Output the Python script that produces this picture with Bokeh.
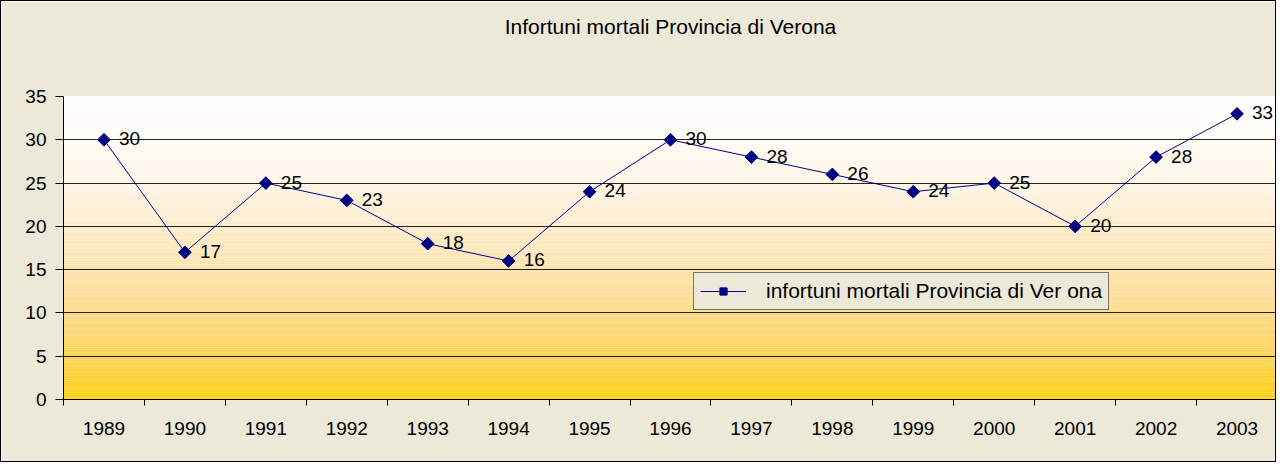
import numpy as np
from bokeh.plotting import figure
from bokeh.models import ColumnDataSource, FixedTicker, LabelSet, Legend, LegendItem, Range1d, Title
from bokeh.core.properties import value
from bokeh.embed import file_html
from bokeh.resources import INLINE

years = ["1989", "1990", "1991", "1992", "1993", "1994", "1995", "1996",
         "1997", "1998", "1999", "2000", "2001", "2002", "2003"]
deaths = [30, 17, 25, 23, 18, 16, 24, 30, 28, 26, 24, 25, 20, 28, 33]
y_ticks = [0, 5, 10, 15, 20, 25, 30, 35]
title_text = "Infortuni mortali Provincia di Verona"
legend_text = "infortuni mortali Provincia di Ver ona"

FONT = "Liberation Sans"
n = len(years)
xs = [i + 0.5 for i in range(n)]

p = figure(width=1276, height=462, output_backend="svg", toolbar_location=None,
           x_range=Range1d(0, n), y_range=Range1d(0, 35),
           min_border_left=62, min_border_right=0, min_border_top=95, min_border_bottom=64,
           title=title_text)
p.styles = {"border": "1px solid #000000"}
p.border_fill_color = "#ECE9D9"
p.background_fill_color = "#FFFFFF"
p.outline_line_color = None

# spacer between frame and title (a blank title nearest to the frame)
p.add_layout(Title(text=" ", text_font_size="1px", standoff=51), "above")

p.title.align = "center"
p.title.offset = -32
p.title.standoff = 10
p.title.text_font = FONT
p.title.text_font_size = "21px"
p.title.text_font_style = "normal"
p.title.text_color = "#000000"

# gradient background (white -> gold)
stops_v = [0, 5, 10, 15, 20, 25, 30, 35]
stops_c = [(255, 204, 8), (255, 210, 80), (254, 217, 132), (253, 226, 170),
           (253, 236, 203), (254, 245, 228), (255, 252, 246), (255, 255, 255)]
edges = np.linspace(0, 35, 176)
cols = []
for a, b in zip(edges[:-1], edges[1:]):
    m = (a + b) / 2
    rgb = [int(round(np.interp(m, stops_v, [c[k] for c in stops_c]))) for k in range(3)]
    cols.append("#%02x%02x%02x" % tuple(rgb))
g = p.quad(left=0, right=n, bottom=edges[:-1], top=edges[1:], fill_color=cols,
           line_color=None, level="image")

src = ColumnDataSource(dict(x=xs, y=deaths, lbl=[str(v) for v in deaths]))
ln = p.line("x", "y", source=src, line_color="#000080", line_width=1)
mk = p.scatter("x", "y", source=src, marker="square", angle=np.pi / 4, size=9,
               fill_color="#000080", line_color="#000080")

labels = LabelSet(x="x", y="y", text="lbl", source=src, x_offset=15, y_offset=1,
                  text_baseline="middle", text_align="left",
                  text_font=value(FONT), text_font_size="19px", text_color="#000000")
p.add_layout(labels)

# axes
p.yaxis.ticker = FixedTicker(ticks=y_ticks)
p.yaxis.axis_line_color = "#000000"
p.yaxis.major_tick_line_color = "#000000"
p.yaxis.major_tick_out = 8
p.yaxis.major_tick_in = 0
p.yaxis.minor_tick_line_color = None
p.yaxis.major_label_standoff = 9
p.yaxis.major_label_text_font = FONT
p.yaxis.major_label_text_font_size = "19px"
p.yaxis.major_label_text_color = "#000000"

p.xaxis.ticker = FixedTicker(ticks=xs, minor_ticks=list(range(n + 1)))
p.xaxis.major_label_overrides = {x: y for x, y in zip(xs, years)}
p.xaxis.axis_line_color = "#000000"
p.xaxis.major_tick_line_color = None
p.xaxis.major_tick_out = 6
p.xaxis.major_tick_in = 0
p.xaxis.minor_tick_line_color = "#000000"
p.xaxis.minor_tick_out = 6
p.xaxis.minor_tick_in = 0
p.xaxis.major_label_standoff = 16
p.xaxis.major_label_text_font = FONT
p.xaxis.major_label_text_font_size = "19px"
p.xaxis.major_label_text_color = "#000000"

p.xgrid.grid_line_color = None
p.ygrid.ticker = FixedTicker(ticks=y_ticks)
p.ygrid.grid_line_color = "#000000"
p.ygrid.grid_line_alpha = 0.85
p.ygrid.grid_line_width = 1

legend = Legend(items=[LegendItem(label=legend_text, renderers=[ln, mk])],
                location=(630, 89), orientation="vertical",
                background_fill_color="#ECE9D9", background_fill_alpha=1,
                border_line_color="#000000", border_line_width=1,
                label_text_font=FONT, label_text_font_size="21px",
                label_text_color="#000000",
                glyph_width=46, glyph_height=18, label_height=18,
                label_standoff=20, padding=6, margin=0, spacing=0)
p.add_layout(legend)

open("out.html", "w").write(file_html(p, INLINE))
